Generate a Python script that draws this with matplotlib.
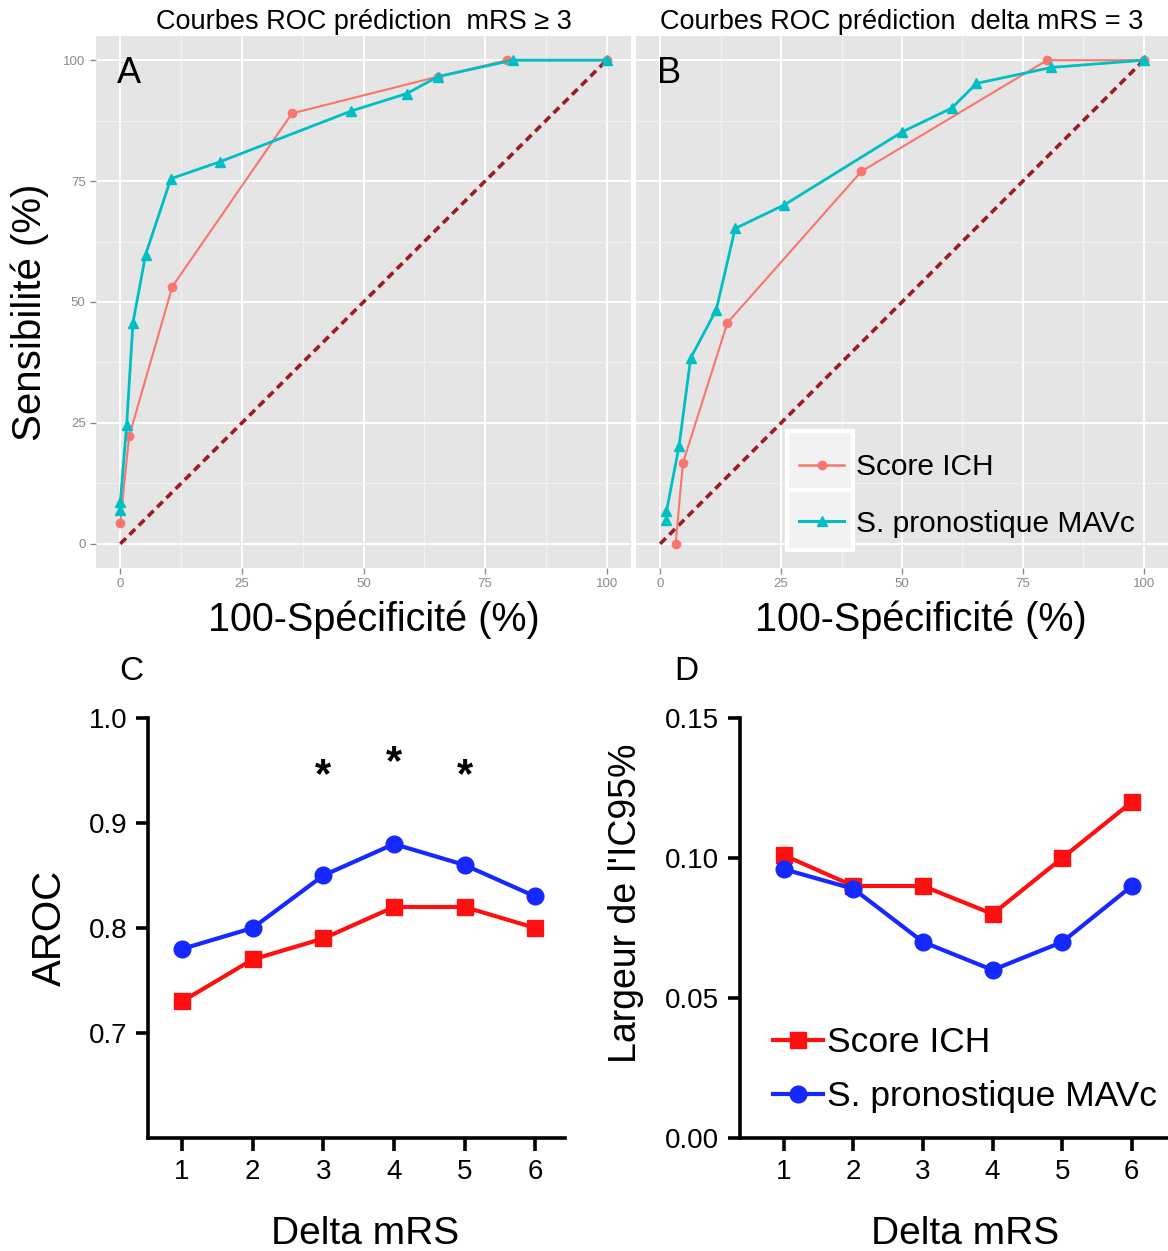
import matplotlib
matplotlib.use("Agg")
import matplotlib.pyplot as plt
from matplotlib.lines import Line2D
from matplotlib.patches import Rectangle
from matplotlib.ticker import MultipleLocator, FormatStrFormatter

plt.rcParams["font.family"] = ["Liberation Sans", "DejaVu Sans"]

# ---- data ----
roc_a_ich_x = [0, 1.8, 10.7, 35.3, 65.3, 79.6, 100]
roc_a_ich_y = [4.4, 22.2, 53.2, 89.0, 96.6, 100, 100]
roc_a_mavc_x = [0, 0, 1.3, 2.6, 5.2, 10.4, 20.5, 47.5, 58.9, 65.3, 80.7, 100]
roc_a_mavc_y = [6.9, 8.6, 24.5, 45.7, 59.8, 75.5, 79.0, 89.5, 93.1, 96.6, 100, 100]

roc_b_ich_x = [3.2, 4.7, 13.9, 41.6, 80.0, 100]
roc_b_ich_y = [0, 16.7, 45.7, 77.0, 100, 100]
roc_b_mavc_x = [1.3, 1.3, 3.9, 6.3, 11.6, 15.5, 25.7, 50.1, 60.3, 65.4, 80.9, 100]
roc_b_mavc_y = [5.0, 6.7, 20.2, 38.4, 48.4, 65.2, 70.1, 85.2, 90.1, 95.2, 98.5, 100]

chance_line = [0, 100]
roc_ticks = [0, 25, 50, 75, 100]

delta_mrs = [1, 2, 3, 4, 5, 6]
aroc_ich = [0.73, 0.77, 0.79, 0.82, 0.82, 0.80]
aroc_mavc = [0.78, 0.80, 0.85, 0.88, 0.86, 0.83]
star_x = [3, 4, 5]
star_y = [0.945, 0.957, 0.945]

ic95_ich = [0.101, 0.09, 0.09, 0.08, 0.10, 0.12]
ic95_mavc = [0.096, 0.089, 0.07, 0.06, 0.07, 0.09]

labels = ["Score ICH", "S. pronostique MAVc"]

GG_RED, GG_TEAL = "#F8766D", "#00BFC4"
RED, BLUE = "#FF1010", "#1428FF"

W, H = 1168, 1251


def px(x0, y0, x1, y1):
    return [x0 / W, 1 - y1 / H, (x1 - x0) / W, (y1 - y0) / H]


fig = plt.figure(figsize=(W / 100, H / 100), dpi=100)

ax_a = fig.add_axes(px(96, 36, 631, 568))
ax_b = fig.add_axes(px(636, 36, 1168, 568))


def roc_panel(ax, ich_x, ich_y, mavc_x, mavc_y, letter, title, show_y):
    ax.set_facecolor("#E5E5E5")
    for s in ax.spines.values():
        s.set_visible(False)
    ax.set_xlim(-5, 105)
    ax.set_ylim(-5, 105)
    ax.set_xticks(roc_ticks)
    ax.set_yticks(roc_ticks)
    ax.xaxis.set_minor_locator(MultipleLocator(12.5))
    ax.yaxis.set_minor_locator(MultipleLocator(12.5))
    ax.grid(which="major", color="white", lw=1.4)
    ax.grid(which="minor", color="#F2F2F2", lw=0.7)
    ax.set_axisbelow(True)
    ax.tick_params(which="major", colors="#8A8A8A", labelsize=9.5, length=4, width=1)
    ax.tick_params(which="minor", length=0)
    if not show_y:
        ax.tick_params(axis="y", labelleft=False, length=0)
    ax.plot(chance_line, chance_line, ls=(0, (2.2, 1.4)), color="#9E1B24", lw=2.6, zorder=2)
    ax.plot(ich_x, ich_y, color=GG_RED, lw=1.5, marker="o", ms=6, zorder=3)
    ax.plot(mavc_x, mavc_y, color=GG_TEAL, lw=2.0, marker="^", ms=7.5, zorder=4)
    ax.text(0.04, 0.93, letter, transform=ax.transAxes, fontsize=26, va="center", ha="left")
    ax.set_title(title, fontsize=19.5, pad=5)


roc_panel(ax_a, roc_a_ich_x, roc_a_ich_y, roc_a_mavc_x, roc_a_mavc_y, "A",
          "Courbes ROC prédiction  mRS ≥ 3", True)
roc_panel(ax_b, roc_b_ich_x, roc_b_ich_y, roc_b_mavc_x, roc_b_mavc_y, "B",
          "Courbes ROC prédiction  delta mRS = 3", False)

# ggplot-style legend in panel B: grey key cells with white borders
for i in range(2):
    ax_b.add_patch(Rectangle((0.284, 0.034 + i * 0.112), 0.124, 0.112,
                             transform=ax_b.transAxes, facecolor="#F2F2F2",
                             edgecolor="white", lw=3, zorder=5))
roc_handles = [
    Line2D([], [], color=GG_RED, lw=1.8, marker="o", ms=6),
    Line2D([], [], color=GG_TEAL, lw=2.2, marker="^", ms=7.5),
]
leg_b = ax_b.legend(roc_handles, labels, loc="lower left", bbox_to_anchor=(0.268, 0.018),
                    frameon=False, fontsize=21.5, handlelength=1.5, handletextpad=0.4,
                    labelspacing=0.95, borderpad=0.2)
leg_b.set_zorder(6)

fig.text(30 / W, 1 - 312 / H, "Sensibilité (%)", rotation=90, fontsize=29,
         ha="center", va="center")
fig.text(374 / W, 1 - 620 / H, "100-Spécificité (%)", fontsize=28.5, ha="center", va="center")
fig.text(921 / W, 1 - 620 / H, "100-Spécificité (%)", fontsize=28.5, ha="center", va="center")

# ---- panels C and D ----
ax_c = fig.add_axes(px(148, 718, 565, 1138))
ax_d = fig.add_axes(px(740, 718, 1168, 1138))


def prism_style(ax):
    for s in ("top", "right"):
        ax.spines[s].set_visible(False)
    for s in ("left", "bottom"):
        ax.spines[s].set_linewidth(2.6)
    ax.tick_params(direction="out", length=9, width=2.6, labelsize=20, pad=6)
    ax.set_xticks(delta_mrs)
    ax.set_xlabel("Delta mRS", fontsize=28)


prism_style(ax_c)
ax_c.set_xlim(0.52, 6.42)
ax_c.set_ylim(0.6, 1.0)
ax_c.set_yticks([0.7, 0.8, 0.9, 1.0])
ax_c.yaxis.set_major_formatter(FormatStrFormatter("%.1f"))
ax_c.plot(delta_mrs, aroc_mavc, color=BLUE, lw=3, marker="o", ms=12, clip_on=False)
ax_c.plot(delta_mrs, aroc_ich, color=RED, lw=3, marker="s", ms=11.5, clip_on=False)
for sx, sy in zip(star_x, star_y):
    ax_c.text(sx, sy, "*", fontsize=30, fontweight="bold", ha="center", va="center")
ax_c.set_ylabel("AROC", fontsize=29, labelpad=14)
ax_c.xaxis.set_label_coords(0.52, -0.185)
ax_c.text(-0.04, 1.11, "C", transform=ax_c.transAxes, fontsize=24, ha="center", va="center")

prism_style(ax_d)
ax_d.set_xlim(0.37, 6.52)
ax_d.set_ylim(0.0, 0.15)
ax_d.set_yticks([0.0, 0.05, 0.10, 0.15])
ax_d.yaxis.set_major_formatter(FormatStrFormatter("%.2f"))
ax_d.plot(delta_mrs, ic95_ich, color=RED, lw=3, marker="s", ms=11.5, clip_on=False,
          label=labels[0])
ax_d.plot(delta_mrs, ic95_mavc, color=BLUE, lw=3, marker="o", ms=12, clip_on=False,
          label=labels[1])
ax_d.set_ylabel("Largeur de l'IC95%", fontsize=27)
ax_d.yaxis.set_label_coords(-0.225, 0.56)
ax_d.xaxis.set_label_coords(0.525, -0.185)
ax_d.text(-0.125, 1.11, "D", transform=ax_d.transAxes, fontsize=24, ha="center", va="center")
ax_d.legend(loc="lower left", bbox_to_anchor=(0.02, 0.0), frameon=False, fontsize=25.5,
            handlelength=1.4, handletextpad=0.12, labelspacing=0.6, borderpad=0.2)

fig.savefig("out.png", dpi=100)
